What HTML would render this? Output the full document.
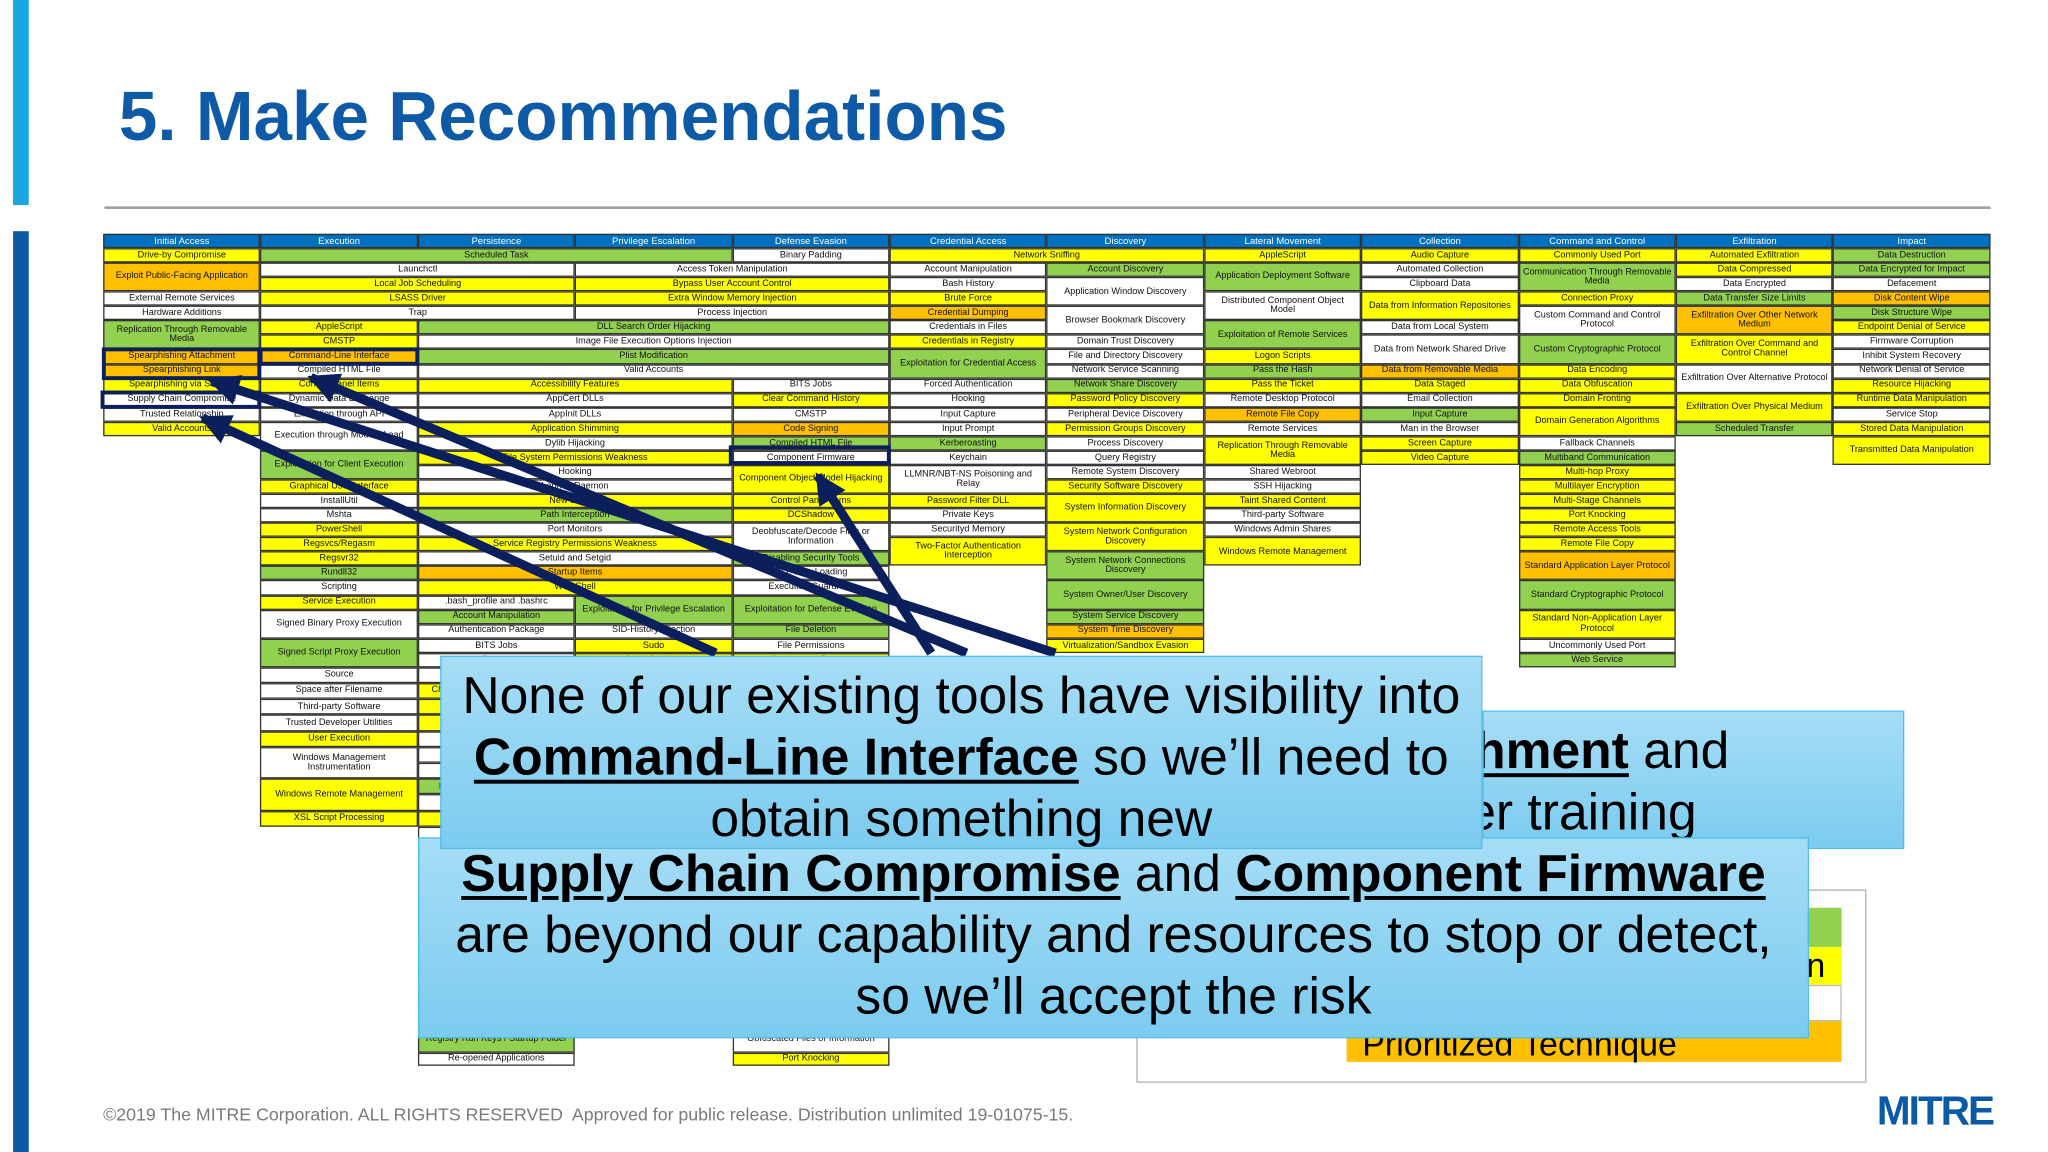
<!DOCTYPE html>
<html><head><meta charset="utf-8">
<style>
html,body{margin:0;padding:0;background:#fff;}
body{width:2048px;height:1152px;overflow:hidden;position:relative;}
#w{position:absolute;left:0;top:0;width:1568px;height:882px;transform:scale(1.306122);transform-origin:0 0;font-family:"Liberation Sans",sans-serif;}
.abs{position:absolute;}
#g{position:absolute;left:79px;top:179px;width:1445px;display:grid;grid-template-columns:repeat(12,120.42px);
grid-template-rows:11px repeat(29,11.07px) repeat(10,12.2px) repeat(18,10.2px);}
#g div{box-sizing:border-box;border:0.6px solid #333;display:flex;align-items:center;justify-content:center;text-align:center;font-size:7px;line-height:1.05;color:#111;overflow:hidden;white-space:normal;padding:0 2px;}
#g div.h{background:#0070c0;color:#fff;font-size:7.3px;}
#g div.Y{background:#ffff00;}
#g div.G{background:#92d050;}
#g div.O{background:#ffc000;}
#g div.W{background:#fff;}
.hl{position:absolute;border:3px solid #0b1f5c;box-sizing:border-box;}
.co{position:absolute;box-sizing:border-box;border:1.5px solid #4fbde8;background:linear-gradient(#a6ddf6,#7ccbef);color:#000;font-size:39.5px;line-height:47px;text-align:center;font-family:"Liberation Sans",sans-serif;}
.co b{text-decoration:underline;text-decoration-thickness:3px;text-underline-offset:4px;}
</style></head><body>
<div id="w">
<div class="abs" style="left:10px;top:0;width:12px;height:157px;background:#1aa7e0"></div>
<div class="abs" style="left:10px;top:177px;width:12px;height:705px;background:#0b5aa6"></div>
<div class="abs" style="left:91px;top:59px;font-size:53px;font-weight:bold;color:#0e5aa7;white-space:nowrap">5. Make Recommendations</div>
<div class="abs" style="left:80px;top:158px;width:1444px;height:2px;background:#a0a0a0"></div>

<div id="g">
<div class="h" style="grid-area:1/1">Initial Access</div>
<div class="h" style="grid-area:1/2">Execution</div>
<div class="h" style="grid-area:1/3">Persistence</div>
<div class="h" style="grid-area:1/4">Privilege Escalation</div>
<div class="h" style="grid-area:1/5">Defense Evasion</div>
<div class="h" style="grid-area:1/6">Credential Access</div>
<div class="h" style="grid-area:1/7">Discovery</div>
<div class="h" style="grid-area:1/8">Lateral Movement</div>
<div class="h" style="grid-area:1/9">Collection</div>
<div class="h" style="grid-area:1/10">Command and Control</div>
<div class="h" style="grid-area:1/11">Exfiltration</div>
<div class="h" style="grid-area:1/12">Impact</div>

<div class="Y" style="grid-area:2/1">Drive-by Compromise</div>
<div class="O" style="grid-area:3/1/5/2">Exploit Public-Facing Application</div>
<div class="W" style="grid-area:5/1">External Remote Services</div>
<div class="W" style="grid-area:6/1">Hardware Additions</div>
<div class="G" style="grid-area:7/1/9/2">Replication Through Removable Media</div>
<div class="O" style="grid-area:9/1">Spearphishing Attachment</div>
<div class="O" style="grid-area:10/1">Spearphishing Link</div>
<div class="Y" style="grid-area:11/1">Spearphishing via Service</div>
<div class="W" style="grid-area:12/1">Supply Chain Compromise</div>
<div class="W" style="grid-area:13/1">Trusted Relationship</div>
<div class="Y" style="grid-area:14/1">Valid Accounts</div>

<div class="G" style="grid-area:2/2/3/5">Scheduled Task</div>
<div class="W" style="grid-area:2/5">Binary Padding</div>
<div class="W" style="grid-area:3/2/4/4">Launchctl</div>
<div class="W" style="grid-area:3/4/4/6">Access Token Manipulation</div>
<div class="Y" style="grid-area:4/2/5/4">Local Job Scheduling</div>
<div class="Y" style="grid-area:4/4/5/6">Bypass User Account Control</div>
<div class="Y" style="grid-area:5/2/6/4">LSASS Driver</div>
<div class="Y" style="grid-area:5/4/6/6">Extra Window Memory Injection</div>
<div class="W" style="grid-area:6/2/7/4">Trap</div>
<div class="W" style="grid-area:6/4/7/6">Process Injection</div>
<div class="Y" style="grid-area:7/2">AppleScript</div>
<div class="G" style="grid-area:7/3/8/6">DLL Search Order Hijacking</div>
<div class="Y" style="grid-area:8/2">CMSTP</div>
<div class="W" style="grid-area:8/3/9/6">Image File Execution Options Injection</div>
<div class="O" style="grid-area:9/2">Command-Line Interface</div>
<div class="G" style="grid-area:9/3/10/6">Plist Modification</div>
<div class="W" style="grid-area:10/2">Compiled HTML File</div>
<div class="W" style="grid-area:10/3/11/6">Valid Accounts</div>
<div class="Y" style="grid-area:11/2">Control Panel Items</div>
<div class="Y" style="grid-area:11/3/12/5">Accessibility Features</div>
<div class="W" style="grid-area:11/5">BITS Jobs</div>
<div class="W" style="grid-area:12/2">Dynamic Data Exchange</div>
<div class="W" style="grid-area:12/3/13/5">AppCert DLLs</div>
<div class="Y" style="grid-area:12/5">Clear Command History</div>
<div class="W" style="grid-area:13/2">Execution through API</div>
<div class="W" style="grid-area:13/3/14/5">AppInit DLLs</div>
<div class="W" style="grid-area:13/5">CMSTP</div>
<div class="W" style="grid-area:14/2/16/3">Execution through Module Load</div>
<div class="Y" style="grid-area:14/3/15/5">Application Shimming</div>
<div class="O" style="grid-area:14/5">Code Signing</div>
<div class="W" style="grid-area:15/3/16/5">Dylib Hijacking</div>
<div class="G" style="grid-area:15/5">Compiled HTML File</div>
<div class="G" style="grid-area:16/2/18/3">Exploitation for Client Execution</div>
<div class="Y" style="grid-area:16/3/17/5">File System Permissions Weakness</div>
<div class="W" style="grid-area:16/5">Component Firmware</div>
<div class="W" style="grid-area:17/3/18/5">Hooking</div>
<div class="Y" style="grid-area:17/5/19/6">Component Object Model Hijacking</div>
<div class="Y" style="grid-area:18/2">Graphical User Interface</div>
<div class="W" style="grid-area:18/3/19/5">Launch Daemon</div>
<div class="W" style="grid-area:19/2">InstallUtil</div>
<div class="Y" style="grid-area:19/3/20/5">New Service</div>
<div class="Y" style="grid-area:19/5">Control Panel Items</div>
<div class="W" style="grid-area:20/2">Mshta</div>
<div class="G" style="grid-area:20/3/21/5">Path Interception</div>
<div class="Y" style="grid-area:20/5">DCShadow</div>
<div class="Y" style="grid-area:21/2">PowerShell</div>
<div class="W" style="grid-area:21/3/22/5">Port Monitors</div>
<div class="W" style="grid-area:21/5/23/6">Deobfuscate/Decode Files or Information</div>
<div class="Y" style="grid-area:22/2">Regsvcs/Regasm</div>
<div class="Y" style="grid-area:22/3/23/5">Service Registry Permissions Weakness</div>
<div class="Y" style="grid-area:23/2">Regsvr32</div>
<div class="W" style="grid-area:23/3/24/5">Setuid and Setgid</div>
<div class="G" style="grid-area:23/5">Disabling Security Tools</div>
<div class="G" style="grid-area:24/2">Rundll32</div>
<div class="O" style="grid-area:24/3/25/5">Startup Items</div>
<div class="W" style="grid-area:24/5">DLL Side-Loading</div>
<div class="W" style="grid-area:25/2">Scripting</div>
<div class="Y" style="grid-area:25/3/26/5">Web Shell</div>
<div class="W" style="grid-area:25/5">Execution Guardrails</div>
<div class="Y" style="grid-area:26/2">Service Execution</div>
<div class="W" style="grid-area:26/3">.bash_profile and .bashrc</div>
<div class="G" style="grid-area:26/4/28/5">Exploitation for Privilege Escalation</div>
<div class="G" style="grid-area:26/5/28/6">Exploitation for Defense Evasion</div>
<div class="W" style="grid-area:27/2/29/3">Signed Binary Proxy Execution</div>
<div class="G" style="grid-area:27/3">Account Manipulation</div>
<div class="W" style="grid-area:28/3">Authentication Package</div>
<div class="W" style="grid-area:28/4">SID-History Injection</div>
<div class="G" style="grid-area:28/5">File Deletion</div>
<div class="G" style="grid-area:29/2/31/3">Signed Script Proxy Execution</div>
<div class="W" style="grid-area:29/3">BITS Jobs</div>
<div class="Y" style="grid-area:29/4">Sudo</div>
<div class="W" style="grid-area:29/5">File Permissions</div>
<div class="W" style="grid-area:30/3">Bootkit</div>
<div class="Y" style="grid-area:30/4">Sudo Caching</div>
<div class="Y" style="grid-area:30/5">Gatekeeper Bypass</div>
<div class="W" style="grid-area:31/2">Source</div>
<div class="W" style="grid-area:32/2">Space after Filename</div>
<div class="W" style="grid-area:33/2">Third-party Software</div>
<div class="W" style="grid-area:34/2">Trusted Developer Utilities</div>
<div class="Y" style="grid-area:35/2">User Execution</div>
<div class="W" style="grid-area:36/2/38/3">Windows Management Instrumentation</div>
<div class="Y" style="grid-area:38/2/40/3">Windows Remote Management</div>
<div class="Y" style="grid-area:40/2">XSL Script Processing</div>
<div class="W" style="grid-area:31/3">Browser Extensions</div>
<div class="Y" style="grid-area:32/3">Change Default File Association</div>
<div class="Y" style="grid-area:33/3">Component Firmware</div>
<div class="Y" style="grid-area:34/3">Create Account</div>
<div class="W" style="grid-area:35/3">External Remote Services</div>
<div class="W" style="grid-area:36/3">Hidden Files</div>
<div class="W" style="grid-area:37/3">Hypervisor</div>
<div class="G" style="grid-area:38/3">Hidden Files and Directories</div>
<div class="W" style="grid-area:39/3">Kernel Modules</div>
<div class="Y" style="grid-area:40/3">Launch Agent</div>
<div class="W" style="grid-area:41/3">LC_LOAD_DYLIB</div>
<div class="W" style="grid-area:42/3">Login Item</div>
<div class="W" style="grid-area:43/3">Logon Scripts</div>
<div class="W" style="grid-area:44/3">Modify Existing Service</div>
<div class="W" style="grid-area:45/3">Netsh Helper DLL</div>
<div class="W" style="grid-area:46/3">Office Startup</div>
<div class="W" style="grid-area:47/3">Port Knocking</div>
<div class="W" style="grid-area:48/3">Rc.common</div>
<div class="W" style="grid-area:49/3">Redundant Access</div>
<div class="W" style="grid-area:50/3">Screensaver</div>
<div class="W" style="grid-area:51/3">Security Support Provider</div>
<div class="W" style="grid-area:52/3">Shortcut Modification</div>
<div class="W" style="grid-area:53/3">SIP and Trust Provider</div>
<div class="W" style="grid-area:54/3">System Firmware</div>
<div class="W" style="grid-area:55/3">Time Providers</div>
<div class="G" style="grid-area:56/3/58/4">Registry Run Keys / Startup Folder</div>
<div class="W" style="grid-area:58/3">Re-opened Applications</div>
<div class="W" style="grid-area:31/4">Setuid and Setgid</div>
<div class="W" style="grid-area:32/4">Startup Items</div>
<div class="W" style="grid-area:33/4">Web Shell</div>
<div class="W" style="grid-area:34/4">Launch Daemon</div>
<div class="W" style="grid-area:31/5">Hidden Files</div>
<div class="W" style="grid-area:32/5">Hidden Window</div>
<div class="W" style="grid-area:33/5">HISTCONTROL</div>
<div class="W" style="grid-area:34/5">Indicator Blocking</div>
<div class="W" style="grid-area:35/5">Install Root Certificate</div>
<div class="W" style="grid-area:36/5">InstallUtil</div>
<div class="W" style="grid-area:37/5">Launchctl</div>
<div class="W" style="grid-area:38/5">LC_MAIN Hijacking</div>
<div class="W" style="grid-area:39/5">Masquerading</div>
<div class="W" style="grid-area:40/5">Modify Registry</div>
<div class="W" style="grid-area:41/5">Mshta</div>
<div class="W" style="grid-area:42/5">Network Share Removal</div>
<div class="W" style="grid-area:43/5">NTFS File Attributes</div>
<div class="W" style="grid-area:44/5">Plist Modification</div>
<div class="W" style="grid-area:45/5">Process Doppelganging</div>
<div class="W" style="grid-area:46/5">Process Hollowing</div>
<div class="W" style="grid-area:47/5">Redundant Access</div>
<div class="W" style="grid-area:48/5">Regsvcs/Regasm</div>
<div class="W" style="grid-area:49/5">Regsvr32</div>
<div class="W" style="grid-area:50/5">Rootkit</div>
<div class="W" style="grid-area:51/5">Rundll32</div>
<div class="W" style="grid-area:52/5">Scripting</div>
<div class="W" style="grid-area:53/5">Signed Binary Proxy</div>
<div class="W" style="grid-area:54/5">Software Packing</div>
<div class="W" style="grid-area:55/5">Template Injection</div>
<div class="W" style="grid-area:56/5/58/6">Obfuscated Files or Information</div>
<div class="Y" style="grid-area:58/5">Port Knocking</div>

<div class="Y" style="grid-area:2/6/3/8">Network Sniffing</div>
<div class="W" style="grid-area:3/6">Account Manipulation</div>
<div class="W" style="grid-area:4/6">Bash History</div>
<div class="Y" style="grid-area:5/6">Brute Force</div>
<div class="O" style="grid-area:6/6">Credential Dumping</div>
<div class="W" style="grid-area:7/6">Credentials in Files</div>
<div class="Y" style="grid-area:8/6">Credentials in Registry</div>
<div class="G" style="grid-area:9/6/11/7">Exploitation for Credential Access</div>
<div class="W" style="grid-area:11/6">Forced Authentication</div>
<div class="W" style="grid-area:12/6">Hooking</div>
<div class="W" style="grid-area:13/6">Input Capture</div>
<div class="W" style="grid-area:14/6">Input Prompt</div>
<div class="G" style="grid-area:15/6">Kerberoasting</div>
<div class="W" style="grid-area:16/6">Keychain</div>
<div class="W" style="grid-area:17/6/19/7">LLMNR/NBT-NS Poisoning and Relay</div>
<div class="Y" style="grid-area:19/6">Password Filter DLL</div>
<div class="W" style="grid-area:20/6">Private Keys</div>
<div class="W" style="grid-area:21/6">Securityd Memory</div>
<div class="Y" style="grid-area:22/6/24/7">Two-Factor Authentication Interception</div>

<div class="G" style="grid-area:3/7">Account Discovery</div>
<div class="W" style="grid-area:4/7/6/8">Application Window Discovery</div>
<div class="W" style="grid-area:6/7/8/8">Browser Bookmark Discovery</div>
<div class="W" style="grid-area:8/7">Domain Trust Discovery</div>
<div class="W" style="grid-area:9/7">File and Directory Discovery</div>
<div class="W" style="grid-area:10/7">Network Service Scanning</div>
<div class="G" style="grid-area:11/7">Network Share Discovery</div>
<div class="Y" style="grid-area:12/7">Password Policy Discovery</div>
<div class="W" style="grid-area:13/7">Peripheral Device Discovery</div>
<div class="Y" style="grid-area:14/7">Permission Groups Discovery</div>
<div class="W" style="grid-area:15/7">Process Discovery</div>
<div class="W" style="grid-area:16/7">Query Registry</div>
<div class="W" style="grid-area:17/7">Remote System Discovery</div>
<div class="Y" style="grid-area:18/7">Security Software Discovery</div>
<div class="Y" style="grid-area:19/7/21/8">System Information Discovery</div>
<div class="Y" style="grid-area:21/7/23/8">System Network Configuration Discovery</div>
<div class="G" style="grid-area:23/7/25/8">System Network Connections Discovery</div>
<div class="G" style="grid-area:25/7/27/8">System Owner/User Discovery</div>
<div class="G" style="grid-area:27/7">System Service Discovery</div>
<div class="O" style="grid-area:28/7">System Time Discovery</div>
<div class="Y" style="grid-area:29/7">Virtualization/Sandbox Evasion</div>

<div class="Y" style="grid-area:2/8">AppleScript</div>
<div class="G" style="grid-area:3/8/5/9">Application Deployment Software</div>
<div class="W" style="grid-area:5/8/7/9">Distributed Component Object Model</div>
<div class="G" style="grid-area:7/8/9/9">Exploitation of Remote Services</div>
<div class="Y" style="grid-area:9/8">Logon Scripts</div>
<div class="G" style="grid-area:10/8">Pass the Hash</div>
<div class="Y" style="grid-area:11/8">Pass the Ticket</div>
<div class="W" style="grid-area:12/8">Remote Desktop Protocol</div>
<div class="O" style="grid-area:13/8">Remote File Copy</div>
<div class="W" style="grid-area:14/8">Remote Services</div>
<div class="Y" style="grid-area:15/8/17/9">Replication Through Removable Media</div>
<div class="W" style="grid-area:17/8">Shared Webroot</div>
<div class="W" style="grid-area:18/8">SSH Hijacking</div>
<div class="Y" style="grid-area:19/8">Taint Shared Content</div>
<div class="W" style="grid-area:20/8">Third-party Software</div>
<div class="W" style="grid-area:21/8">Windows Admin Shares</div>
<div class="Y" style="grid-area:22/8/24/9">Windows Remote Management</div>

<div class="Y" style="grid-area:2/9">Audio Capture</div>
<div class="W" style="grid-area:3/9">Automated Collection</div>
<div class="W" style="grid-area:4/9">Clipboard Data</div>
<div class="Y" style="grid-area:5/9/7/10">Data from Information Repositories</div>
<div class="W" style="grid-area:7/9">Data from Local System</div>
<div class="W" style="grid-area:8/9/10/10">Data from Network Shared Drive</div>
<div class="O" style="grid-area:10/9">Data from Removable Media</div>
<div class="Y" style="grid-area:11/9">Data Staged</div>
<div class="W" style="grid-area:12/9">Email Collection</div>
<div class="G" style="grid-area:13/9">Input Capture</div>
<div class="W" style="grid-area:14/9">Man in the Browser</div>
<div class="Y" style="grid-area:15/9">Screen Capture</div>
<div class="Y" style="grid-area:16/9">Video Capture</div>

<div class="Y" style="grid-area:2/10">Commonly Used Port</div>
<div class="G" style="grid-area:3/10/5/11">Communication Through Removable Media</div>
<div class="Y" style="grid-area:5/10">Connection Proxy</div>
<div class="W" style="grid-area:6/10/8/11">Custom Command and Control Protocol</div>
<div class="G" style="grid-area:8/10/10/11">Custom Cryptographic Protocol</div>
<div class="Y" style="grid-area:10/10">Data Encoding</div>
<div class="Y" style="grid-area:11/10">Data Obfuscation</div>
<div class="Y" style="grid-area:12/10">Domain Fronting</div>
<div class="Y" style="grid-area:13/10/15/11">Domain Generation Algorithms</div>
<div class="W" style="grid-area:15/10">Fallback Channels</div>
<div class="G" style="grid-area:16/10">Multiband Communication</div>
<div class="Y" style="grid-area:17/10">Multi-hop Proxy</div>
<div class="Y" style="grid-area:18/10">Multilayer Encryption</div>
<div class="Y" style="grid-area:19/10">Multi-Stage Channels</div>
<div class="Y" style="grid-area:20/10">Port Knocking</div>
<div class="Y" style="grid-area:21/10">Remote Access Tools</div>
<div class="Y" style="grid-area:22/10">Remote File Copy</div>
<div class="O" style="grid-area:23/10/25/11">Standard Application Layer Protocol</div>
<div class="G" style="grid-area:25/10/27/11">Standard Cryptographic Protocol</div>
<div class="Y" style="grid-area:27/10/29/11">Standard Non-Application Layer Protocol</div>
<div class="W" style="grid-area:29/10">Uncommonly Used Port</div>
<div class="G" style="grid-area:30/10">Web Service</div>

<div class="Y" style="grid-area:2/11">Automated Exfiltration</div>
<div class="Y" style="grid-area:3/11">Data Compressed</div>
<div class="W" style="grid-area:4/11">Data Encrypted</div>
<div class="G" style="grid-area:5/11">Data Transfer Size Limits</div>
<div class="O" style="grid-area:6/11/8/12">Exfiltration Over Other Network Medium</div>
<div class="Y" style="grid-area:8/11/10/12">Exfiltration Over Command and Control Channel</div>
<div class="W" style="grid-area:10/11/12/12">Exfiltration Over Alternative Protocol</div>
<div class="Y" style="grid-area:12/11/14/12">Exfiltration Over Physical Medium</div>
<div class="G" style="grid-area:14/11">Scheduled Transfer</div>

<div class="G" style="grid-area:2/12">Data Destruction</div>
<div class="G" style="grid-area:3/12">Data Encrypted for Impact</div>
<div class="W" style="grid-area:4/12">Defacement</div>
<div class="O" style="grid-area:5/12">Disk Content Wipe</div>
<div class="G" style="grid-area:6/12">Disk Structure Wipe</div>
<div class="Y" style="grid-area:7/12">Endpoint Denial of Service</div>
<div class="W" style="grid-area:8/12">Firmware Corruption</div>
<div class="W" style="grid-area:9/12">Inhibit System Recovery</div>
<div class="W" style="grid-area:10/12">Network Denial of Service</div>
<div class="Y" style="grid-area:11/12">Resource Hijacking</div>
<div class="Y" style="grid-area:12/12">Runtime Data Manipulation</div>
<div class="W" style="grid-area:13/12">Service Stop</div>
<div class="Y" style="grid-area:14/12">Stored Data Manipulation</div>
<div class="Y" style="grid-area:15/12/17/13">Transmitted Data Manipulation</div>
</div>

<div class="hl" style="left:78px;top:266px;width:122px;height:25px"></div>
<div class="hl" style="left:198px;top:266px;width:123px;height:14px"></div>
<div class="hl" style="left:77px;top:299px;width:123px;height:14px"></div>
<div class="hl" style="left:558px;top:341px;width:124px;height:15px"></div>

<svg class="abs" style="left:0;top:0" width="1568" height="882">
<defs><marker id="a" markerWidth="3.4" markerHeight="3.4" refX="3" refY="1.7" orient="auto" markerUnits="strokeWidth"><path d="M0,0 L3.4,1.7 L0,3.4 z" fill="#0b1f5c"/></marker></defs>
<g stroke="#0b1f5c" stroke-width="7" fill="none" marker-end="url(#a)">
<line x1="808" y1="500" x2="162" y2="292"/>
<line x1="740" y1="500" x2="238" y2="289"/>
<line x1="713" y1="500" x2="626" y2="364"/>
<line x1="548" y1="500" x2="155" y2="320"/>
</g></svg>

<div class="abs" style="left:870px;top:681px;width:559px;height:148px;border:1px solid #b0b0b0;box-sizing:border-box;background:#fff"></div>
<div class="abs" style="left:1031px;top:695px;width:379px;height:30px;background:#92d050"></div>
<div class="abs" style="left:1031px;top:725px;width:379px;height:29px;background:#ffff00;font-size:26px;line-height:29px;color:#000"><span style="position:absolute;left:352px;top:0">n</span></div>
<div class="abs" style="left:1031px;top:754px;width:379px;height:28px;background:#fff;border:1px solid #bbb;box-sizing:border-box"></div>
<div class="abs" style="left:1031px;top:782px;width:379px;height:31px;background:#ffc000;font-size:26px;line-height:34px;color:#000;white-space:nowrap"><span style="margin-left:12px">Prioritized Technique</span></div>

<div class="co" style="left:1135px;top:544px;width:323px;height:106px;overflow:hidden">
<div class="abs" style="right:133px;top:7px;white-space:nowrap"><b>Spearphishing Attachment</b> and</div>
<div class="abs" style="right:158px;top:54px;white-space:nowrap">so we’ll need better user training</div>
</div>

<div class="co" style="left:320px;top:641px;width:1065px;height:154px;padding-top:4px">
<div style="white-space:nowrap"><b>Supply Chain Compromise</b> and <b>Component Firmware</b></div>
<div style="white-space:nowrap">are beyond our capability and resources to stop or detect,</div>
<div style="white-space:nowrap">so we’ll accept the risk</div>
</div>

<div class="co" style="left:337px;top:502px;width:798px;height:148px;padding-top:7px">
<div style="white-space:nowrap">None of our existing tools have visibility into</div>
<div style="white-space:nowrap"><b>Command-Line Interface</b> so we’ll need to</div>
<div style="white-space:nowrap">obtain something new</div>
</div>

<div class="abs" style="left:79px;top:846px;font-size:13.6px;color:#7a7a7a;white-space:nowrap">©2019 The MITRE Corporation. ALL RIGHTS RESERVED&nbsp; Approved for public release. Distribution unlimited 19-01075-15.</div>
<div class="abs" style="left:1437px;top:833px;font-size:31px;font-weight:bold;color:#0b5aa6;letter-spacing:-1.5px;white-space:nowrap">MITRE</div>
</div>
</body></html>
